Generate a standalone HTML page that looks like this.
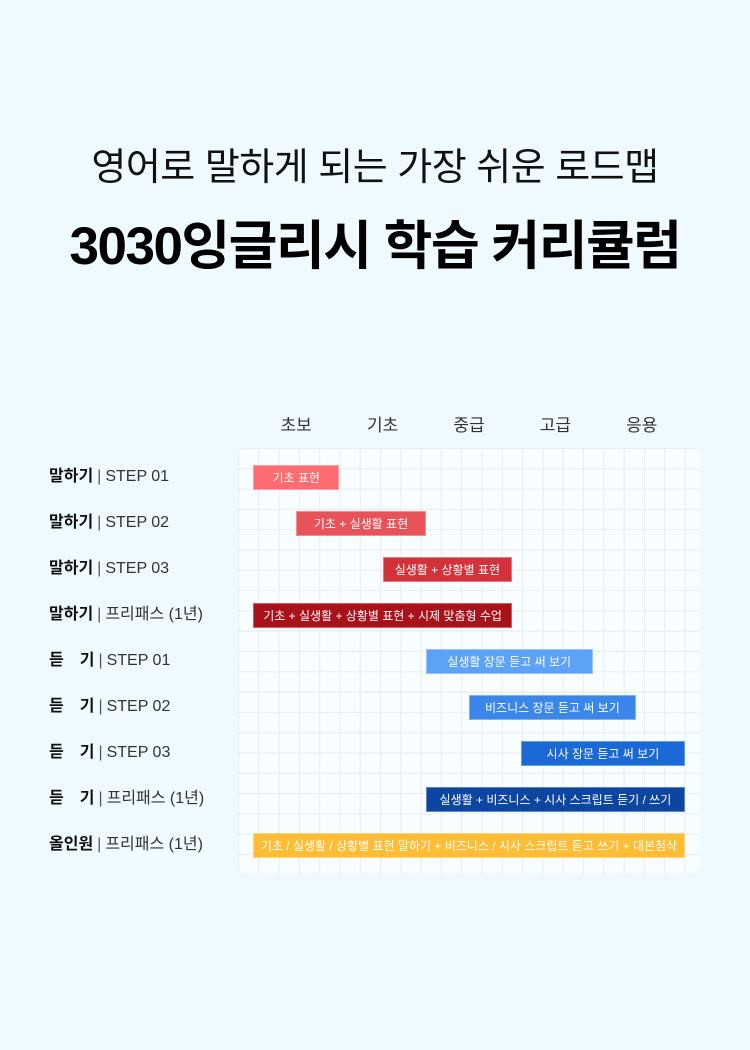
<!DOCTYPE html>
<html><head><meta charset="utf-8">
<style>
body{margin:0;width:750px;height:1050px;background:#eefaff;font-family:"Liberation Sans","Noto Sans CJK KR",sans-serif;position:relative;overflow:hidden}
.t1{position:absolute;top:136px;left:0;width:750px;text-align:center;font-size:38px;color:#111;letter-spacing:-0.5px}
.t2{position:absolute;top:204px;left:0;width:750px;text-align:center;font-size:53px;font-weight:bold;color:#000;letter-spacing:-1.5px}
.panel{position:absolute;left:237px;top:448px;width:463px;height:425px;border-radius:8px;background-color:#f8fdff;
background-image:linear-gradient(to right,#e6edf0 1px,transparent 1px),linear-gradient(to bottom,#e6edf0 1px,transparent 1px);
background-size:20.3px 20.3px;background-position:1px 0px}
.hdr{position:absolute;top:411px;font-size:17px;color:#333;transform:translateX(-50%)}
.lab{position:absolute;left:49px;font-size:16px;color:#333;white-space:nowrap;line-height:20px}
.lab b{color:#111;display:inline-block}
.lab .sep{color:#555;margin:0 4px}
.bar{position:absolute;height:25px;color:#fff;font-size:12px;display:flex;align-items:center;justify-content:center;white-space:nowrap;box-sizing:border-box;border:1px solid rgba(255,255,255,0.35)}
</style></head><body>
<div class="t1">영어로 말하게 되는 가장 쉬운 로드맵</div>
<div class="t2">3030잉글리시 학습 커리큘럼</div>
<div class="panel"></div>
<div id="chart"></div>
<script>
const levels=["초보","기초","중급","고급","응용"];
const boldLabels=["말하기","말하기","말하기","말하기","듣　기","듣　기","듣　기","듣　기","올인원"];
const subLabels=["STEP 01","STEP 02","STEP 03","프리패스 (1년)","STEP 01","STEP 02","STEP 03","프리패스 (1년)","프리패스 (1년)"];
const barText=["기초 표현","기초 + 실생활 표현","실생활 + 상황별 표현","기초 + 실생활 + 상황별 표현 + 시제 맞춤형 수업","실생활 장문 듣고 써 보기","비즈니스 장문 듣고 써 보기","시사 장문 듣고 써 보기","실생활 + 비즈니스 + 시사 스크립트 듣기 / 쓰기","기초 / 실생활 / 상황별 표현 말하기 + 비즈니스 / 시사 스크립트 듣고 쓰기 + 대본첨삭"];
const startVals=[0,0.5,1.5,0,2,2.5,3.1,2,0];
const endVals=[1,2,3,3,3.93,4.43,5,5,5];
const colors=["#fe6b70","#e8535a","#d3323a","#a9121b","#5ca2f6","#3b86e9","#1a69d7","#0c46a1","#ffbd35"];
const x=v=>253+v*86.4;
const y=i=>465+i*46;
const c=document.getElementById('chart');
levels.forEach((l,i)=>{const d=document.createElement('div');d.className='hdr';d.style.left=(x(i+0.5))+'px';d.textContent=l;


c.appendChild(d);});
boldLabels.forEach((b,i)=>{const d=document.createElement('div');d.className='lab';d.style.top=(y(i)+2)+'px';
d.innerHTML='<b>'+b+'</b><span class="sep">|</span>'+subLabels[i];


c.appendChild(d);
const r=document.createElement('div');r.className='bar';r.style.left=x(startVals[i])+'px';r.style.top=y(i)+'px';
r.style.width=(x(endVals[i])-x(startVals[i]))+'px';r.style.background=colors[i];r.textContent=barText[i];


c.appendChild(r);});
</script>
</body></html>
